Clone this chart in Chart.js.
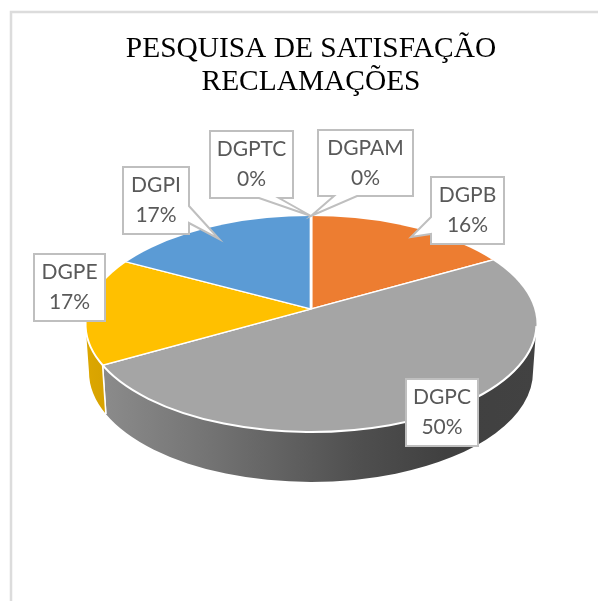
<!DOCTYPE html>
<html><head><meta charset="utf-8">
<style>html,body{margin:0;padding:0;background:#fff}canvas{display:block}</style>
<script src="https://cdn.jsdelivr.net/npm/chart.js@4"></script>
</head><body><canvas id="c" width="598" height="601"></canvas>
<script>
const categories = ['DGPAM','DGPB','DGPC','DGPE','DGPI','DGPTC'];
const seriesValues = [0,16.4,50,16.8,16.8,0];
const sliceColors = ['#5B9BD5','#ED7D31','#A5A5A5','#FFC000','#5B9BD5','#70AD47'];
const chartTitle = ['PESQUISA DE SATISFAÇÃO','RECLAMAÇÕES'];

const total = seriesValues.reduce((a,b)=>a+b,0);
// 3D projection of the pie
const apex = {x:311,y:309}, top3d = {x:311,y:324,rx:225.5,ry:108}, low3d = {x:311,y:372,rx:222,ry:110};
const tilt = 0.45, reach = 300, titleSqueeze = 0.98;
// callout boxes: [x0,y0,x1,y1], pointer base a,b and tip
const callouts = {
  DGPTC:{box:[210,131,293,198],ptr:[[259,198],[279,198],[311,216]]},
  DGPAM:{box:[318,130,413,196],ptr:[[334,196],[357,196],[311,216]]},
  DGPB:{box:[431,177,504,244],ptr:[[431,217],[431,234],[411,237]]},
  DGPC:{box:[406,379,478,446],ptr:null},
  DGPI:{box:[123,167,189,234],ptr:[[189,206],[189,223],[219,239]]},
  DGPE:{box:[34,254,105,321],ptr:null}
};
function rimParam(a){
  const dx=Math.cos(a), dy=tilt*Math.sin(a);
  const ox=(apex.x-top3d.x)/top3d.rx, oy=(apex.y-top3d.y)/top3d.ry;
  const ux=dx/top3d.rx, uy=dy/top3d.ry;
  const A=ux*ux+uy*uy, B=2*(ox*ux+oy*uy), C=ox*ox+oy*oy-1;
  const s=(-B+Math.sqrt(B*B-4*A*C))/(2*A);
  let t=Math.atan2(oy+s*uy,ox+s*ux);
  if(t<-Math.PI/2-1e-6) t+=2*Math.PI;
  return t;
}
function shade(hex,f){
  const n=parseInt(hex.slice(1),16);
  return `rgb(${((n>>16)&255)*f|0},${((n>>8)&255)*f|0},${(n&255)*f|0})`;
}
const pie3d = {
  id:'pie3d',
  beforeDraw(chart){
    const c=chart.ctx; c.save();
    c.strokeStyle='#DCDCDC'; c.lineWidth=2.5;
    c.beginPath(); c.moveTo(598,12); c.lineTo(11,12); c.lineTo(11,601); c.stroke();
    c.restore();
    const tb=chart.titleBlock;
    if(tb && !tb._squeezed){
      tb._squeezed=true;
      const orig=tb.draw.bind(tb);
      tb.draw=function(){
        const cx=(tb.left+tb.right)/2;
        c.save(); c.translate(cx,0); c.scale(titleSqueeze,1); c.translate(-cx,0);
        orig(); c.restore();
      };
    }
  },
  beforeDatasetsDraw(chart){
    const c=chart.ctx, arcs=chart.getDatasetMeta(0).data;
    arcs.forEach((arc,i)=>{
      if(!seriesValues[i]) return;
      let t0=rimParam(arc.startAngle), t1=rimParam(arc.endAngle);
      if(t1<t0) t1+=2*Math.PI;
      const s=Math.max(t0,0), e=Math.min(t1,Math.PI);
      if(e<=s) return;
      const g=c.createLinearGradient(85,0,536,0), col=sliceColors[i];
      [[0,.87],[.25,.72],[.61,.48],[.8,.39],[1,.4]].forEach(p=>g.addColorStop(p[0],shade(col,p[1])));
      c.save();
      c.beginPath();
      c.ellipse(top3d.x,top3d.y,top3d.rx,top3d.ry,0,s,e,false);
      c.ellipse(low3d.x,low3d.y,low3d.rx,low3d.ry,0,e,s,true);
      c.closePath();
      c.fillStyle=g; c.fill();
      c.strokeStyle='#fff'; c.lineWidth=1.5;
      if(s>0.01||e<Math.PI-0.01){
        const b=s>0.01?s:e;
        c.beginPath();
        c.moveTo(top3d.x+top3d.rx*Math.cos(b),top3d.y+top3d.ry*Math.sin(b));
        c.lineTo(low3d.x+low3d.rx*Math.cos(b),low3d.y+low3d.ry*Math.sin(b));
        c.stroke();
      }
      c.restore();
    });
    const a=arcs[0], k=reach/a.outerRadius;
    c.save();
    c.beginPath(); c.ellipse(top3d.x,top3d.y,top3d.rx,top3d.ry,0,0,Math.PI*2); c.clip();
    c.translate(apex.x,apex.y); c.scale(k,k*tilt); c.translate(-a.x,-a.y);
  },
  afterDatasetsDraw(chart){
    const c=chart.ctx;
    c.restore();
    c.save();
    c.strokeStyle='#fff'; c.lineWidth=2;
    c.beginPath(); c.ellipse(top3d.x,top3d.y,top3d.rx,top3d.ry,0,0.02,Math.PI*1.02); c.stroke();
    c.font='21px Lato'; c.textAlign='center'; c.textBaseline='middle';
    categories.forEach((name,i)=>{
      const o=callouts[name], [x0,y0,x1,y1]=o.box;
      c.beginPath();
      if(o.ptr){
        const [p,q,tip]=o.ptr;
        if(p[1]===y1){ // pointer from bottom edge
          c.moveTo(x0,y0);c.lineTo(x1,y0);c.lineTo(x1,y1);c.lineTo(q[0],q[1]);c.lineTo(tip[0],tip[1]);c.lineTo(p[0],p[1]);c.lineTo(x0,y1);
        }else if(p[0]===x1){ // right edge
          c.moveTo(x0,y0);c.lineTo(x1,y0);c.lineTo(p[0],p[1]);c.lineTo(tip[0],tip[1]);c.lineTo(q[0],q[1]);c.lineTo(x1,y1);c.lineTo(x0,y1);
        }else{ // left edge
          c.moveTo(x0,y0);c.lineTo(x1,y0);c.lineTo(x1,y1);c.lineTo(x0,y1);c.lineTo(q[0],q[1]);c.lineTo(tip[0],tip[1]);c.lineTo(p[0],p[1]);
        }
        c.closePath();
      }else c.rect(x0,y0,x1-x0,y1-y0);
      c.fillStyle='#fff'; c.fill();
      c.strokeStyle='#BFBFBF'; c.lineWidth=2; c.stroke();
      c.fillStyle='#595959';
      const mx=(x0+x1)/2, my=(y0+y1)/2;
      c.fillText(name,mx,my-15);
      c.fillText(Math.round(seriesValues[i]/total*100)+'%',mx,my+15);
    });
    c.restore();
  }
};
new Chart(document.getElementById('c'),{
  type:'pie',
  data:{labels:categories,datasets:[{data:seriesValues,backgroundColor:sliceColors,borderColor:'#fff',borderWidth:2.2,clip:false}]},
  options:{
    responsive:false,animation:false,
    layout:{padding:{left:24}},
    plugins:{
      legend:{display:false},tooltip:{enabled:false},
      title:{display:true,text:chartTitle,color:'#000',
        font:{family:'"Liberation Serif"',size:30,weight:'normal',lineHeight:1.123},
        padding:{top:32,bottom:10}}
    }
  },
  plugins:[pie3d]
});
</script></body></html>
